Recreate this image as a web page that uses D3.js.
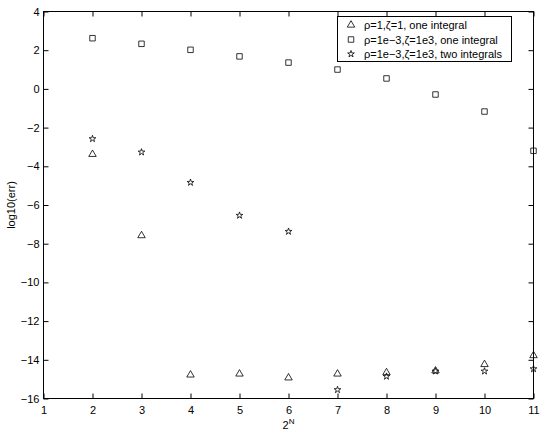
<!DOCTYPE html>
<html>
<head>
<meta charset="utf-8">
<script src="https://cdn.jsdelivr.net/npm/d3@7"></script>
<style>
  body { margin: 0; background: #fff; }
  svg text { font-family: "Liberation Sans", Arial, sans-serif; fill: #000; }
</style>
</head>
<body>
<div id="container"></div>
<script>
// x positions (N)
const xValues = [2, 3, 4, 5, 6, 7, 8, 9, 10, 11];

// log10(err) for each series
const tri = [-3.38, -7.58, -14.78, -14.73, -14.93, -14.73, -14.66, -14.57, -14.24, -13.78];
const sq = [2.62, 2.33, 2.02, 1.68, 1.36, 1.0, 0.54, -0.29, -1.17, -3.2];
const star = [-2.58, -3.27, -4.84, -6.54, -7.37, -15.55, -14.86, -14.59, -14.59, -14.47];

const xTicks = [1, 2, 3, 4, 5, 6, 7, 8, 9, 10, 11];
const yTicks = [4, 2, 0, -2, -4, -6, -8, -10, -12, -14, -16];

const legendLabels = [
  "ρ=1,ζ=1, one integral",
  "ρ=1e−3,ζ=1e3, one integral",
  "ρ=1e−3,ζ=1e3, two integrals"
];

const W = 545, H = 434;
const mLeft = 43.5, mRight = 533.5, mTop = 11.5, mBottom = 398.5;

const svg = d3.select("#container").append("svg")
  .attr("width", W).attr("height", H);

const x = d3.scaleLinear().domain([1, 11]).range([mLeft, mRight]);
const y = d3.scaleLinear().domain([-16, 4]).range([mBottom, mTop]);

// box
svg.append("rect")
  .attr("x", mLeft).attr("y", mTop)
  .attr("width", mRight - mLeft).attr("height", mBottom - mTop)
  .attr("fill", "none").attr("stroke", "#000").attr("stroke-width", 1);

// axes (inward ticks, MATLAB style)
const fmt = d => d < 0 ? "−" + Math.abs(d) : String(d);

svg.append("g").attr("transform", `translate(0,${mBottom})`)
  .call(d3.axisBottom(x).tickValues(xTicks).tickSizeInner(-5).tickSizeOuter(0).tickPadding(8).tickFormat(fmt))
  .call(g => g.select(".domain").remove());
svg.append("g").attr("transform", `translate(0,${mTop})`)
  .call(d3.axisTop(x).tickValues(xTicks).tickSizeInner(-5).tickSizeOuter(0).tickFormat(""))
  .call(g => g.select(".domain").remove());
svg.append("g").attr("transform", `translate(${mLeft},0)`)
  .call(d3.axisLeft(y).tickValues(yTicks).tickSizeInner(-5).tickSizeOuter(0).tickPadding(4).tickFormat(fmt))
  .call(g => g.select(".domain").remove());
svg.append("g").attr("transform", `translate(${mRight},0)`)
  .call(d3.axisRight(y).tickValues(yTicks).tickSizeInner(-5).tickSizeOuter(0).tickFormat(""))
  .call(g => g.select(".domain").remove());

svg.selectAll(".tick text").style("font-size", "11px");
svg.selectAll(".tick line").attr("stroke", "#000");

// axis labels
svg.append("text")
  .attr("x", (mLeft + mRight) / 2).attr("y", 429)
  .attr("text-anchor", "middle").style("font-size", "11px")
  .html('2<tspan dy="-5" style="font-size:8px">N</tspan>');

svg.append("text")
  .attr("transform", `translate(15,${(mTop + mBottom) / 2}) rotate(-90)`)
  .attr("text-anchor", "middle").style("font-size", "11px")
  .text("log10(err)");

// markers
const shapes = [
  { data: tri, sym: d3.symbol(d3.symbolTriangle, 24) },
  { data: sq, sym: d3.symbol(d3.symbolSquare, 30) },
  { data: star, sym: d3.symbol(d3.symbolStar, 14) }
];

shapes.forEach(s => {
  svg.append("g").selectAll("path")
    .data(s.data)
    .enter().append("path")
    .attr("d", s.sym)
    .attr("transform", (d, i) => `translate(${x(xValues[i])},${y(d)})`)
    .attr("fill", "none").attr("stroke", "#000").attr("stroke-width", 0.8);
});

// legend
const lg = svg.append("g");
lg.append("rect")
  .attr("x", 337.5).attr("y", 16.5).attr("width", 174).attr("height", 45)
  .attr("fill", "#fff").attr("stroke", "#000").attr("stroke-width", 1);

legendLabels.forEach((t, i) => {
  const cy = 25 + i * 14.5;
  lg.append("path")
    .attr("d", shapes[i].sym)
    .attr("transform", `translate(351,${cy})`)
    .attr("fill", "none").attr("stroke", "#000").attr("stroke-width", 0.8);
  lg.append("text")
    .attr("x", 364).attr("y", cy + 4)
    .style("font-size", "11px")
    .text(t);
});
</script>
</body>
</html>
